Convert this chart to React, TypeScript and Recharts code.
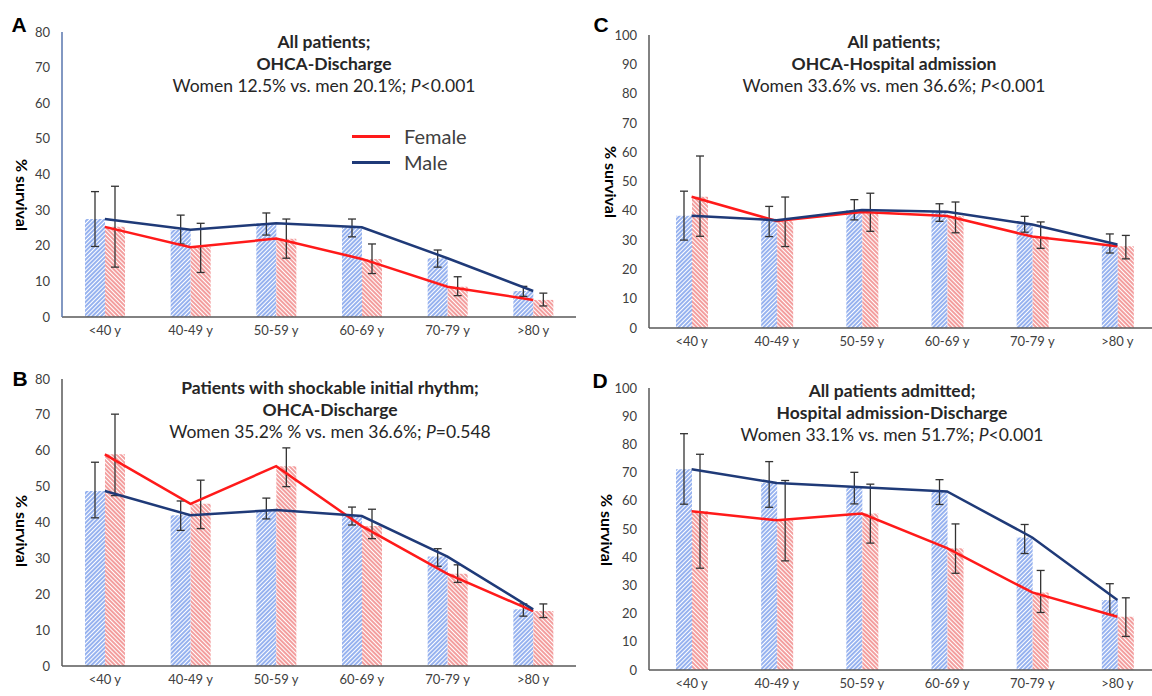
import React from "react";
import { ComposedChart, Bar, Line, XAxis, YAxis, ErrorBar } from "recharts";

// ─── Shared categories ────────────────────────────────────────────────────────
const ageGroups = ["<40 y", "40-49 y", "50-59 y", "60-69 y", "70-79 y", ">80 y"];
const ticks80 = [0, 10, 20, 30, 40, 50, 60, 70, 80];
const ticks100 = [0, 10, 20, 30, 40, 50, 60, 70, 80, 90, 100];

// ─── A: All patients, OHCA-Discharge ──────────────────────────────────────────
const aMale = [27.5, 24.5, 26.3, 25.2, 16.5, 7.3];
const aMaleLow = [19.8, 20.5, 23.0, 22.5, 14.0, 5.8];
const aMaleHigh = [35.2, 28.6, 29.2, 27.5, 18.8, 8.6];
const aFemale = [25.3, 19.6, 22.0, 16.3, 8.5, 4.8];
const aFemaleLow = [14.0, 12.5, 16.5, 12.2, 6.0, 3.1];
const aFemaleHigh = [36.7, 26.3, 27.5, 20.5, 11.3, 6.7];

// ─── B: Shockable initial rhythm, OHCA-Discharge ──────────────────────────────
const bMale = [48.8, 42.0, 43.5, 41.8, 30.5, 15.8];
const bMaleLow = [41.3, 37.8, 41.0, 39.3, 27.8, 13.9];
const bMaleHigh = [56.8, 46.0, 46.8, 44.3, 32.7, 17.3];
const bFemale = [59.0, 45.2, 55.7, 39.0, 25.7, 15.3];
const bFemaleLow = [47.5, 38.3, 50.0, 35.5, 23.3, 13.5];
const bFemaleHigh = [70.2, 51.8, 60.8, 43.7, 28.2, 17.3];

// ─── C: All patients, OHCA-Hospital admission ─────────────────────────────────
const cMale = [38.3, 36.8, 40.3, 39.7, 35.3, 28.5];
const cMaleLow = [30.0, 31.2, 36.9, 36.4, 32.7, 25.6];
const cMaleHigh = [46.7, 41.5, 43.8, 42.4, 38.1, 32.1];
const cFemale = [44.8, 36.5, 39.6, 38.2, 31.2, 27.9];
const cFemaleLow = [31.3, 27.8, 33.0, 32.5, 27.2, 23.6];
const cFemaleHigh = [58.7, 44.7, 46.0, 43.0, 36.2, 31.6];

// ─── D: Admitted, Hospital admission-Discharge ────────────────────────────────
const dMale = [71.2, 66.3, 64.8, 63.3, 47.0, 24.8];
const dMaleLow = [58.8, 57.7, 58.9, 58.7, 41.3, 19.7];
const dMaleHigh = [83.8, 73.9, 70.1, 67.5, 51.6, 30.6];
const dFemale = [56.3, 53.1, 55.5, 43.2, 27.5, 18.9];
const dFemaleLow = [36.1, 38.7, 45.0, 34.3, 20.4, 11.9];
const dFemaleHigh = [76.5, 67.2, 65.9, 51.8, 35.3, 25.6];

const FONT = "Lato, 'Open Sans', sans-serif";
const TEXT = "#404040";
const NAVY = "#1F3A78";
const RED = "#FF1A1A";

function buildRows(
  male: number[], maleLow: number[], maleHigh: number[],
  female: number[], femaleLow: number[], femaleHigh: number[]
) {
  return ageGroups.map((age, i) => ({
    age,
    male: male[i],
    female: female[i],
    maleErr: [male[i] - maleLow[i], maleHigh[i] - male[i]],
    femaleErr: [female[i] - femaleLow[i], femaleHigh[i] - female[i]],
  }));
}

type PanelProps = {
  x: number; y: number; width: number; height: number;
  letter: string; letterPos: [number, number];
  title: [string, string]; stats: React.ReactNode; titleX: number; titleTop: number;
  rows: any[]; yMax: number; ticks: number[];
  plotTop: number; plotLeft: number; plotBottom: number; yAxisWidth: number;
  barSize: number; yAxisColor: string; yLabelPos: [number, number];
  children?: React.ReactNode;
};

function Panel(p: PanelProps) {
  const xAxisHeight = 25;
  return (
    <div style={{ position: "absolute", left: p.x, top: p.y, width: p.width, height: p.height }}>
      <ComposedChart
        width={p.width}
        height={p.height}
        data={p.rows}
        barGap={0}
        margin={{
          top: p.plotTop,
          right: 0,
          left: p.plotLeft - p.yAxisWidth,
          bottom: p.height - p.plotBottom - xAxisHeight,
        }}
      >
        <XAxis
          dataKey="age"
          interval={0}
          height={xAxisHeight}
          tickLine={false}
          tickSize={0}
          tickMargin={9}
          axisLine={{ stroke: "#595959", strokeWidth: 1.5 }}
          tick={{ fill: TEXT, fontSize: 13, fontFamily: FONT }}
        />
        <YAxis
          domain={[0, p.yMax]}
          ticks={p.ticks}
          width={p.yAxisWidth}
          tickLine={false}
          tickSize={0}
          tickMargin={12}
          axisLine={{ stroke: p.yAxisColor, strokeWidth: 1.5 }}
          tick={{ fill: TEXT, fontSize: 13, fontFamily: FONT }}
        />
        <Bar dataKey="male" barSize={p.barSize} fill="url(#hatchBlue)" isAnimationActive={false}>
          <ErrorBar dataKey="maleErr" direction="y" width={4} stroke="#333" strokeWidth={1.3} isAnimationActive={false} />
        </Bar>
        <Bar dataKey="female" barSize={p.barSize} fill="url(#hatchRed)" isAnimationActive={false}>
          <ErrorBar dataKey="femaleErr" direction="y" width={4} stroke="#333" strokeWidth={1.3} isAnimationActive={false} />
        </Bar>
        <Line dataKey="female" stroke={RED} strokeWidth={2.5} dot={false} isAnimationActive={false} />
        <Line dataKey="male" stroke={NAVY} strokeWidth={2.5} dot={false} isAnimationActive={false} />
      </ComposedChart>

      {/* panel letter */}
      <div
        style={{
          position: "absolute", left: p.letterPos[0] - 15, top: p.letterPos[1] - 13, width: 30,
          textAlign: "center", fontFamily: "'Liberation Sans', Arial, sans-serif",
          fontWeight: 700, fontSize: 21, lineHeight: "26px", color: "#000",
        }}
      >
        {p.letter}
      </div>

      {/* titles */}
      <div
        style={{
          position: "absolute", left: p.titleX - 240, top: p.titleTop, width: 480,
          textAlign: "center", fontFamily: FONT, fontSize: 17.5, lineHeight: "22px", color: "#262626",
        }}
      >
        <div style={{ fontWeight: 700 }}>{p.title[0]}</div>
        <div style={{ fontWeight: 700 }}>{p.title[1]}</div>
        <div>{p.stats}</div>
      </div>

      {/* y label */}
      <div
        style={{
          position: "absolute", left: p.yLabelPos[0] - 60, top: p.yLabelPos[1] - 10, width: 120,
          height: 20, lineHeight: "20px", textAlign: "center", transform: "rotate(90deg)",
          fontFamily: FONT, fontWeight: 700, fontSize: 16, color: "#000",
        }}
      >
        % survival
      </div>
      {p.children}
    </div>
  );
}

function LegendItem({ color, label, y }: { color: string; label: string; y: number }) {
  return (
    <>
      <div style={{ position: "absolute", left: 352, top: y - 1.5, width: 38, height: 3, background: color }} />
      <div
        style={{
          position: "absolute", left: 404, top: y - 13, height: 26, lineHeight: "26px",
          fontFamily: FONT, fontSize: 20, color: TEXT,
        }}
      >
        {label}
      </div>
    </>
  );
}

export default function App() {
  return (
    <div
      style={{
        position: "absolute", left: 0, top: 0, width: 1152, height: 696,
        overflow: "hidden", background: "#fff",
      }}
    >
      <svg width={0} height={0} style={{ position: "absolute" }}>
        <defs>
          <pattern id="hatchBlue" patternUnits="userSpaceOnUse" width="3" height="3" patternTransform="rotate(45)">
            <rect width="3" height="3" fill="#fff" />
            <line x1="1" y1="0" x2="1" y2="3" stroke="#7C9FEC" strokeWidth="1.6" />
          </pattern>
          <pattern id="hatchRed" patternUnits="userSpaceOnUse" width="3" height="3" patternTransform="rotate(-45)">
            <rect width="3" height="3" fill="#fff" />
            <line x1="1" y1="0" x2="1" y2="3" stroke="#F08686" strokeWidth="1.6" />
          </pattern>
        </defs>
      </svg>

      <Panel
        x={0} y={0} width={576} height={348}
        letter="A" letterPos={[19, 25]}
        title={["All patients;", "OHCA-Discharge"]}
        stats={<>Women 12.5% vs. men 20.1%; <i>P</i>&lt;0.001</>}
        titleX={324} titleTop={31}
        rows={buildRows(aMale, aMaleLow, aMaleHigh, aFemale, aFemaleLow, aFemaleHigh)}
        yMax={80} ticks={ticks80}
        plotTop={32} plotLeft={62} plotBottom={317} yAxisWidth={40}
        barSize={20} yAxisColor="#5876AE" yLabelPos={[22, 195]}
      >
        <LegendItem color={RED} label="Female" y={136} />
        <LegendItem color={NAVY} label="Male" y={162} />
      </Panel>

      <Panel
        x={0} y={348} width={576} height={348}
        letter="B" letterPos={[20, 31]}
        title={["Patients with shockable initial rhythm;", "OHCA-Discharge"]}
        stats={<>Women 35.2% % vs. men 36.6%; <i>P</i>=0.548</>}
        titleX={330} titleTop={29}
        rows={buildRows(bMale, bMaleLow, bMaleHigh, bFemale, bFemaleLow, bFemaleHigh)}
        yMax={80} ticks={ticks80}
        plotTop={31} plotLeft={62} plotBottom={318} yAxisWidth={40}
        barSize={20} yAxisColor="#595959" yLabelPos={[22, 183]}
      />

      <Panel
        x={576} y={0} width={584} height={360}
        letter="C" letterPos={[25, 25]}
        title={["All patients;", "OHCA-Hospital admission"]}
        stats={<>Women 33.6% vs. men 36.6%; <i>P</i>&lt;0.001</>}
        titleX={318} titleTop={31}
        rows={buildRows(cMale, cMaleLow, cMaleHigh, cFemale, cFemaleLow, cFemaleHigh)}
        yMax={100} ticks={ticks100}
        plotTop={35} plotLeft={73} plotBottom={328} yAxisWidth={45}
        barSize={16} yAxisColor="#595959" yLabelPos={[35, 182]}
      />

      <Panel
        x={576} y={348} width={584} height={348}
        letter="D" letterPos={[24, 33]}
        title={["All patients admitted;", "Hospital admission-Discharge"]}
        stats={<>Women 33.1% vs. men 51.7%; <i>P</i>&lt;0.001</>}
        titleX={316} titleTop={32}
        rows={buildRows(dMale, dMaleLow, dMaleHigh, dFemale, dFemaleLow, dFemaleHigh)}
        yMax={100} ticks={ticks100}
        plotTop={40} plotLeft={73} plotBottom={322} yAxisWidth={45}
        barSize={16} yAxisColor="#595959" yLabelPos={[31, 182]}
      />
    </div>
  );
}
